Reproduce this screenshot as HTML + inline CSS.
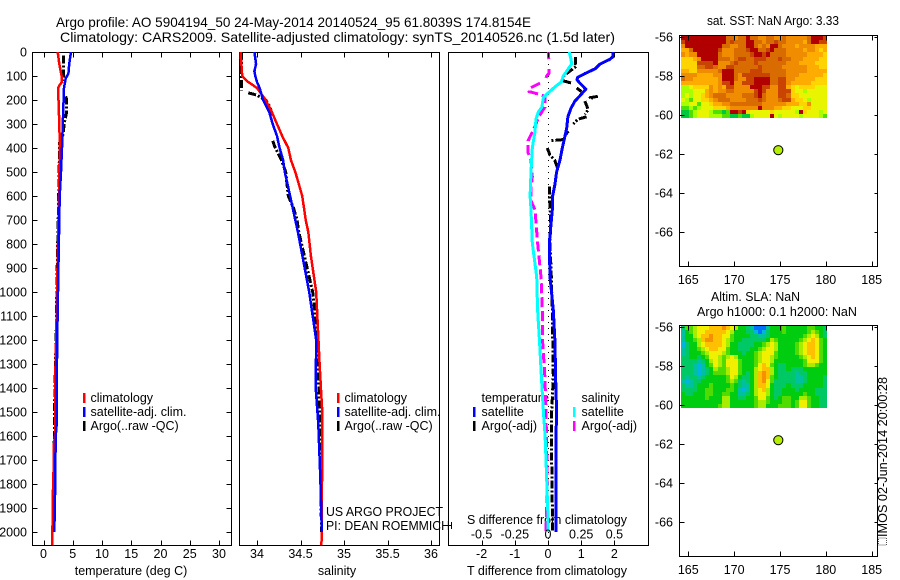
<!DOCTYPE html>
<html>
<head>
<meta charset="utf-8">
<title>Argo profile</title>
<style>
html,body{margin:0;padding:0;background:#fff;width:900px;height:580px;overflow:hidden}
svg{display:block}
text{font-family:"Liberation Sans",sans-serif;font-size:12.5px;fill:#000}
.box{fill:none;stroke:#000;stroke-width:1.4;shape-rendering:crispEdges}
.tick{stroke:#000;stroke-width:1;shape-rendering:crispEdges}
.crv{fill:none;shape-rendering:crispEdges;stroke-linejoin:round}
</style>
</head>
<body>
<svg id="chart" width="900" height="580" viewBox="0 0 900 580">
<text x="56" y="27" font-size="14" style="font-size:14px" textLength="475" lengthAdjust="spacingAndGlyphs">Argo profile: AO 5904194_50 24-May-2014 20140524_95 61.8039S 174.8154E</text>
<text x="60" y="42" style="font-size:14px" textLength="555" lengthAdjust="spacingAndGlyphs">Climatology: CARS2009. Satellite-adjusted climatology: synTS_20140526.nc (1.5d later)</text>

<text x="131" y="575" text-anchor="middle">temperature (deg C)</text>
<text x="337" y="575" text-anchor="middle">salinity</text>
<text x="547" y="575" text-anchor="middle" textLength="160" lengthAdjust="spacingAndGlyphs">T difference from climatology</text>
<text x="547" y="524" text-anchor="middle" textLength="160" lengthAdjust="spacingAndGlyphs">S difference from climatology</text>

<g>
<rect x="83" y="393" width="2.5" height="10" fill="#f00"/>
<rect x="83" y="407" width="2.5" height="10" fill="#00f"/>
<rect x="83" y="421" width="2.5" height="10" fill="#000"/>
<text x="90.5" y="402">climatology</text>
<text x="90.5" y="416" textLength="96" lengthAdjust="spacingAndGlyphs">satellite-adj. clim.</text>
<text x="90.5" y="430">Argo(..raw -QC)</text>
</g>
<g>
<rect x="337" y="393" width="2.5" height="10" fill="#f00"/>
<rect x="337" y="407" width="2.5" height="10" fill="#00f"/>
<rect x="337" y="421" width="2.5" height="10" fill="#000"/>
<text x="344.5" y="402">climatology</text>
<text x="344.5" y="416" textLength="96" lengthAdjust="spacingAndGlyphs">satellite-adj. clim.</text>
<text x="344.5" y="430">Argo(..raw -QC)</text>
</g>
<text x="326" y="516" textLength="117" lengthAdjust="spacingAndGlyphs">US ARGO PROJECT</text>
<text x="326" y="530" textLength="124" lengthAdjust="spacingAndGlyphs">PI: DEAN ROEMMICH</text>

<g id="diff-legend">
<text x="481.5" y="402">temperature</text>
<text x="581.5" y="402">salinity</text>
<rect x="473" y="407" width="2.5" height="10" fill="#00f"/>
<rect x="473" y="421" width="2.5" height="10" fill="#000"/>
<rect x="573" y="407" width="2.5" height="10" fill="#0ff"/>
<rect x="573" y="421" width="2.5" height="10" fill="#f0f"/>
<text x="481.5" y="416">satellite</text>
<text x="481.5" y="430">Argo(-adj)</text>
<text x="581.5" y="416">satellite</text>
<text x="581.5" y="430">Argo(-adj)</text>
</g>

<text x="773" y="25" text-anchor="middle" textLength="132" lengthAdjust="spacingAndGlyphs">sat. SST: NaN Argo: 3.33</text>
<text x="755.5" y="301" text-anchor="middle" textLength="89" lengthAdjust="spacingAndGlyphs">Altim. SLA: NaN</text>
<text x="777" y="316" text-anchor="middle" textLength="160" lengthAdjust="spacingAndGlyphs">Argo h1000: 0.1 h2000: NaN</text>

<rect x="878.5" y="538" width="8" height="7" fill="none" stroke="#555" stroke-width="1" stroke-dasharray="1 1"/>
<text transform="translate(887,537) rotate(-90)" textLength="160" lengthAdjust="spacingAndGlyphs">IMOS 02-Jun-2014 20:00:28</text>
</svg>

<script>
/* ---- tick labels ---- */
const depthTicks = [0,100,200,300,400,500,600,700,800,900,1000,1100,1200,1300,1400,1500,1600,1700,1800,1900,2000];
const temperatureTicks = [0,5,10,15,20,25,30];
const salinityTicks = [34,34.5,35,35.5,36];
const tDiffTicks = [-2,-1,0,1,2];
const sDiffTicks = [-0.5,-0.25,0,0.25,0.5];
const lonTicks = [165,170,175,180,185];
const latTicks = [-56,-58,-60,-62,-64,-66];

/* ---- temperature profile ---- */
const tClimDepth = [0,50,100,125,140,150,300,400,500,600,900,1200,1400,1600,1630,1800,1850,1900,2054];
const tClimValues = [2.42,2.7,3.1,3.16,2.7,2.5,2.7,2.8,2.7,2.65,2.4,2.15,1.97,1.97,1.8,1.67,1.57,1.57,1.5];
const tSatDepth = [0,50,90,110,150,300,400,500,600,900,1200,1400,1550,1600,1850,2000];
const tSatValues = [4.7,4.4,4.25,3.8,3.5,3.3,3.16,3.0,2.77,2.55,2.35,2.25,2.25,2.08,1.97,1.85];
const tArgoDepth = [15,120,null,185,200,250,300,340,380,450,600,900,1200,1400,1600,1800,2000];
const tArgoValues = [3.4,3.4,null,3.8,3.96,3.96,3.5,3.4,2.7,2.7,2.6,2.35,2.15,1.95,1.85,1.75,1.7];

/* ---- salinity profile ---- */
const sClimDepth = [0,100,120,150,170,200,250,300,350,400,450,500,550,600,650,700,750,850,1000,1300,1400,1500,2000,2054];
const sClimValues = [33.81,33.83,33.88,34.0,34.04,34.1,34.17,34.23,34.29,34.36,34.39,34.44,34.48,34.52,34.54,34.56,34.59,34.62,34.68,34.72,34.735,34.75,34.745,34.74];
const sSatDepth = [0,50,80,100,125,150,200,250,300,350,400,450,500,550,600,650,700,750,1000,1200,1400,1450,1550,1750,1850,2000];
const sSatValues = [33.97,33.99,33.97,33.98,34.0,34.03,34.07,34.14,34.18,34.23,34.26,34.3,34.32,34.35,34.38,34.41,34.44,34.47,34.6,34.68,34.675,34.685,34.705,34.725,34.735,34.745];
const sArgoDepth = [0,160,null,170,180,190,200,230,270,null,370,400,450,500,600,650,700,750,1000,1200,1400,1600,2000];
const sArgoValues = [33.82,33.82,null,33.9,34.0,34.05,34.1,34.15,34.18,null,34.18,34.21,34.28,34.33,34.36,34.42,34.46,34.48,34.64,34.7,34.71,34.73,34.74];

/* ---- differences ---- */
const dTSatDepth = [0,20,30,50,70,90,105,115,130,155,175,205,235,270,320,400,450,500,550,600,658,796,937,1075,1212,1354,1500,1600,2000];
const dTSatValues = [1.97,1.95,1.87,1.57,1.42,1.11,0.9,0.87,0.96,1.14,1.01,0.81,0.69,0.6,0.56,0.43,0.36,0.26,0.21,0.14,0.13,0.04,0.06,0.16,0.21,0.23,0.26,0.24,0.24];
const dSSatDepth = [0,30,50,70,100,125,145,170,190,230,250,280,330,400,500,600,658,796,937,1075,1212,1354,1500,1600,1700,1900,2000];
const dSSatValues = [0.16,0.173,0.178,0.153,0.115,0.1,0.053,0.002,-0.035,-0.047,-0.073,-0.09,-0.098,-0.118,-0.128,-0.135,-0.128,-0.118,-0.085,-0.078,-0.063,-0.05,-0.035,-0.022,-0.015,-0.002,0.002];
const dTArgoDepth = [20,50,60,90,100,null,120,130,null,150,165,null,185,190,195,null,205,240,260,null,270,280,300,null,330,350,null,365,370,null,400,430,450,480,null,530,null,560,620,700,796,937,1075,1354,1500,1700,2000];
const dTArgoValues = [0.83,0.83,0.85,0.56,0.46,null,0.46,0.71,null,0.86,1.01,null,1.5,1.27,1.35,null,1.11,1.21,1.11,null,1.16,0.9,0.76,null,0.61,0.5,null,0.46,0.05,null,-0.02,0.06,0.2,0.28,null,0.13,null,0.05,0.05,0.08,0.06,0.1,0.13,0.16,0.11,0.11,0.14];
const dSArgoDepth = [0,30,null,70,90,100,115,null,130,150,165,175,185,230,270,310,370,420,450,520,570,620,658,796,937,1075,1212,1354,1500,1800,2000];
const dSArgoValues = [0.002,0.006,null,0.006,0.006,-0.01,-0.02,null,-0.06,-0.135,-0.142,-0.073,-0.023,-0.023,-0.07,-0.098,-0.15,-0.15,-0.128,-0.118,-0.128,-0.128,-0.098,-0.078,-0.053,-0.043,-0.04,-0.023,-0.015,-0.005,-0.015];

/* ---- map position ---- */
const argoLon = 174.8154;
const argoLat = -61.8039;

/* ---- SST grid (colour level 0-9, north to south) ---- */
const sstGrid = [
[9,9,9,9,9,9,9,9,9,9,9,7,7,6,7,7,9,7,7,6,6,7,7,6,6,7,6,6,6,6,6,7,9,9,9,8],
[8,9,9,9,9,9,9,9,9,9,9,7,8,7,7,7,9,9,7,7,6,7,7,8,7,7,6,6,6,6,5,7,9,9,8,8],
[6,9,9,9,9,9,9,9,9,9,7,7,6,6,7,7,9,9,7,6,7,6,9,9,7,6,6,6,5,6,6,6,6,5,5,5],
[5,5,7,9,9,9,9,9,9,8,6,6,6,7,7,7,8,9,9,7,7,8,9,7,7,7,6,6,6,6,5,6,6,5,4,5],
[6,5,6,6,9,9,9,9,9,7,6,6,6,7,7,7,7,8,9,9,8,9,7,7,7,7,6,6,6,6,6,5,5,5,5,4],
[4,4,4,5,6,9,9,9,9,7,7,7,6,7,8,8,7,7,8,8,8,7,7,7,8,7,7,6,6,6,5,5,5,5,4,4],
[4,4,4,4,8,8,8,8,9,6,6,6,7,8,7,7,7,7,8,7,7,7,7,7,7,7,6,6,6,5,5,5,5,4,4,4],
[4,4,4,4,7,7,8,8,7,6,6,8,8,7,7,7,7,7,7,8,7,7,7,7,7,6,6,6,6,6,6,5,5,5,4,4],
[5,5,4,4,6,6,6,6,6,7,9,9,9,7,7,7,7,8,8,8,7,7,7,7,7,7,6,6,6,6,6,5,5,5,5,5],
[6,6,6,6,5,5,5,5,6,6,9,9,9,7,6,8,8,8,8,8,8,8,7,7,7,7,6,6,6,5,5,5,5,5,5,4],
[7,6,6,5,5,5,5,5,5,6,9,9,9,7,6,6,8,8,9,9,9,9,7,7,8,8,6,6,5,5,5,5,5,4,4,4],
[5,5,5,5,5,5,5,5,5,6,8,8,9,6,6,8,8,8,9,9,9,9,7,7,8,8,6,5,5,5,5,5,4,4,4,4],
[2,2,3,4,4,4,4,6,5,6,5,8,8,6,6,6,6,9,9,9,8,8,6,6,8,8,5,4,3,4,4,4,4,3,3,3],
[2,2,2,3,3,3,5,6,5,6,6,7,7,6,6,6,6,6,8,9,8,6,6,6,8,8,8,4,3,3,2,3,3,3,3,3],
[2,3,2,3,3,4,5,6,7,7,7,6,6,6,6,7,7,7,8,9,7,6,6,6,8,8,7,4,4,3,3,3,3,3,3,3],
[3,2,1,3,3,4,4,5,6,7,7,7,6,6,6,6,7,7,7,8,7,6,6,6,7,8,8,5,4,4,3,2,3,3,3,3],
[2,2,3,3,1,3,3,4,5,5,6,6,7,7,7,7,7,7,7,7,6,6,6,6,6,6,5,5,5,4,4,6,3,3,3,3],
[1,1,2,1,2,3,3,3,4,4,4,5,6,6,6,6,6,6,6,9,6,6,6,5,5,4,4,3,3,3,4,4,3,3,3,3],
[0,0,1,2,3,3,3,2,1,1,0,1,9,9,8,9,4,3,3,3,3,3,4,3,3,3,3,3,2,9,4,3,3,3,2,3],
[0,0,1,2,3,3,3,2,2,2,1,1,0,0,1,0,0,2,3,3,3,3,9,3,2,3,3,3,3,2,3,3,3,3,2,1]
];

/* ---- SLA grid (colour level 0-9, north to south) ---- */
const slaGrid = [
[3,5,5,6,7,7,7,8,8,8,9,8,7,6,4,4,3,2,0,0,0,2,4,4,4,5,4,4,4,4,4,5,5,4,4,3],
[2,4,5,6,7,7,8,8,8,8,8,7,6,4,4,4,3,3,1,0,1,3,4,4,4,5,4,4,4,4,4,5,6,5,4,3],
[2,4,4,6,7,8,8,9,8,8,7,7,5,4,4,4,4,3,3,2,2,3,4,4,4,4,4,4,4,4,5,6,7,6,4,3],
[2,4,4,5,6,8,9,9,8,8,7,6,5,4,4,3,3,3,3,3,3,4,6,5,4,4,4,4,4,5,6,7,8,7,5,4],
[1,3,4,4,6,7,8,8,8,8,7,6,4,4,3,3,3,3,4,4,5,6,7,6,4,4,4,4,5,6,7,8,8,7,5,4],
[2,3,4,4,5,6,7,8,8,7,7,5,4,4,3,3,3,4,4,5,6,7,7,6,4,4,4,4,5,6,7,8,8,7,5,4],
[2,3,4,4,4,5,6,7,7,7,6,5,4,4,4,3,4,4,5,6,7,7,7,5,4,4,4,4,5,6,7,8,8,7,5,4],
[3,3,4,4,3,4,5,7,7,6,5,6,7,6,4,4,4,4,5,6,7,7,6,5,4,4,4,4,4,5,6,7,8,7,5,4],
[3,3,3,3,2,3,4,6,7,6,5,7,7,7,5,4,4,4,5,6,7,7,6,4,4,4,4,4,4,4,5,7,7,7,5,4],
[3,3,3,2,1,2,4,5,7,6,5,7,7,7,5,4,4,4,5,7,8,7,5,4,3,3,4,4,4,4,5,6,6,5,4,4],
[3,3,3,2,1,2,3,4,6,5,5,6,7,7,5,4,4,4,6,7,8,8,6,4,3,3,4,3,3,3,4,4,4,4,4,4],
[3,3,3,2,1,2,3,4,5,5,5,6,7,7,5,4,3,4,6,8,9,8,6,4,3,3,3,3,2,3,3,4,4,4,4,4],
[3,2,3,3,2,3,4,4,4,4,4,5,7,6,4,3,3,4,6,8,9,8,5,4,3,3,3,3,2,2,3,4,4,4,4,3],
[2,1,2,3,3,4,4,4,4,4,4,5,6,5,3,2,3,4,6,8,9,7,5,3,3,3,3,3,2,2,3,4,4,4,4,3],
[3,2,2,3,4,4,4,5,4,4,4,4,5,4,3,2,2,4,6,8,8,7,4,3,3,3,4,3,3,3,4,4,4,4,4,3],
[3,3,3,3,4,4,5,5,4,4,4,5,5,4,2,1,2,4,6,7,8,6,4,3,3,4,4,4,3,4,4,4,4,3,3,3],
[4,3,3,4,4,4,5,5,4,4,5,5,4,4,2,2,3,4,6,7,7,6,4,3,3,4,4,4,4,4,5,4,4,3,3,3],
[4,4,4,4,4,4,5,4,4,4,6,6,4,4,3,3,4,4,5,7,7,5,4,3,4,5,5,4,4,6,6,5,4,4,3,3],
[4,4,4,4,4,4,4,4,4,4,6,6,4,4,4,4,4,4,5,6,6,5,4,4,4,5,5,4,5,7,7,5,4,4,3,3],
[4,4,4,4,4,4,4,4,4,5,6,6,4,4,4,4,4,4,5,6,6,4,4,4,5,5,5,4,5,7,7,5,4,4,3,3]
];

/* ---- colour scales ---- */
const sstColours = ['#00c83c','#50e000','#a8ff00','#e8f400','#ffd400','#ffac00','#f08c00','#d86c00','#c84400','#b00000'];
const slaColours = ['#0070ff','#00b4e0','#00c0a0','#00c864','#00cc10','#50dc00','#a8ec00','#f0f000','#ffc000','#f59000'];

/* ---- axis functions ---- */
const NS = 'http://www.w3.org/2000/svg';
const svg = document.getElementById('chart');
const yDepth = d => 52 + 0.24 * d;
const xTemp = v => 43.5 + 5.85 * v;
const xSal = v => 257 + 87 * (v - 34);
const xDT = v => 548 + 33.2 * v;
const xDS = v => 548 + 132.8 * v;
const xLon = v => 688.3 + 9.17 * (v - 165);
const yLatA = v => 37 + 19.5 * (-56 - v);
const yLatB = v => 327 + 19.5 * (-56 - v);

function make(tag, attrs, parent) {
  const el = document.createElementNS(NS, tag);
  for (const k in attrs) el.setAttribute(k, attrs[k]);
  (parent || svg).appendChild(el);
  return el;
}

function drawBox(left, top, right, bottom, name) {
  const g = make('g', {});
  
  
  const r = make('rect', {x:left, y:top, width:right-left, height:bottom-top, class:'box'}, g);
  
  
  return g;
}

function tickLine(g, x1, y1, x2, y2) {
  const t = make('line', {x1:x1, y1:y1, x2:x2, y2:y2, class:'tick'}, g);
  
  
}

function tickLabel(g, x, y, anchor, str) {
  const t = make('text', {x:x, y:y, 'text-anchor':anchor}, g);
  t.textContent = str;
  
  
}

function xTicks(g, ticks, scale, top, bottom, labelY) {
  ticks.forEach(v => {
    const x = Math.round(scale(v)) + 0.5;
    tickLine(g, x, top, x, top + 5);
    tickLine(g, x, bottom, x, bottom - 5);
    if (labelY) tickLabel(g, scale(v), labelY, 'middle', String(v));
  });
}

function drawCurve(g, name, depths, values, scale, colour, width, dash) {
  let d = '';
  let pen = false;
  depths.forEach((dep, i) => {
    if (dep === null || values[i] === null) { pen = false; return; }
    d += (pen ? 'L' : 'M') + scale(values[i]).toFixed(1) + ' ' + yDepth(dep).toFixed(1);
    pen = true;
  });
  const p = make('path', {d:d, class:'crv', stroke:colour, 'stroke-width':width}, g);
  if (dash) p.setAttribute('stroke-dasharray', dash);
  
  
}

/* ---- temperature panel ---- */
const p1 = drawBox(32.5, 52.5, 231.5, 545.5, 'temperature-panel');
drawCurve(p1, 'temperature-argo-line', tArgoDepth, tArgoValues, xTemp, '#000', 3, '8 2 2 2');
drawCurve(p1, 'temperature-climatology-line', tClimDepth, tClimValues, xTemp, '#f00', 2.5);
drawCurve(p1, 'temperature-satellite-line', tSatDepth, tSatValues, xTemp, '#00f', 2.5);
xTicks(p1, temperatureTicks, xTemp, 52.5, 545.5, 558);
depthTicks.forEach(d => {
  const y = Math.round(yDepth(d)) + 0.5;
  tickLine(p1, 32.5, y, 37.5, y);
  tickLine(p1, 231.5, y, 226.5, y);
  tickLabel(p1, 27, yDepth(d) + 4.5, 'end', String(d));
});

/* ---- salinity panel ---- */
const p2 = drawBox(239.5, 52.5, 439.5, 545.5, 'salinity-panel');
drawCurve(p2, 'salinity-argo-line', sArgoDepth, sArgoValues, xSal, '#000', 3, '8 2 2 2');
drawCurve(p2, 'salinity-climatology-line', sClimDepth, sClimValues, xSal, '#f00', 2.5);
drawCurve(p2, 'salinity-satellite-line', sSatDepth, sSatValues, xSal, '#00f', 2.5);
xTicks(p2, salinityTicks, xSal, 52.5, 545.5, 558);

/* ---- difference panel ---- */
const p3 = drawBox(448.5, 52.5, 648.5, 545.5, 'difference-panel');
const zero = make('line', {x1:548.5, y1:52, x2:548.5, y2:545, stroke:'#000', 'stroke-width':1, 'stroke-dasharray':'1 5', 'shape-rendering':'crispEdges'}, p3);


drawCurve(p3, 't-difference-argo-line', dTArgoDepth, dTArgoValues, xDT, '#000', 3, '8 2 2 2');
drawCurve(p3, 't-difference-satellite-line', dTSatDepth, dTSatValues, xDT, '#00f', 3);
drawCurve(p3, 's-difference-argo-line', dSArgoDepth, dSArgoValues, xDS, '#f0f', 3, '10 4');
drawCurve(p3, 's-difference-satellite-line', dSSatDepth, dSSatValues, xDS, '#0ff', 3);
xTicks(p3, tDiffTicks, xDT, 52.5, 545.5, 558);
sDiffTicks.forEach(v => tickLabel(p3, xDS(v), 538.5, 'middle', String(v)));
tickLine(p3, 449, 525.5, 451, 525.5);
tickLine(p3, 451.5, 522, 451.5, 529);

/* ---- maps ---- */
function drawHeat(g, name, grid, colours, left, top, width, height) {
  const h = make('g', {'shape-rendering':'crispEdges'}, g);
  
  
  const rows = grid.length;
  const cols = grid[0].length;
  const cw = width / cols;
  const ch = height / rows;
  grid.forEach((row, r) => row.forEach((v, c) => {
    const x0 = Math.round(left + c * cw);
    const x1 = Math.round(left + (c + 1) * cw);
    const y0 = Math.round(top + r * ch);
    const y1 = Math.round(top + (r + 1) * ch);
    const cell = make('rect', {x:x0, y:y0, width:x1-x0, height:y1-y0, fill:colours[v]}, h);
    
    
  }));
}

function drawMap(name, heatName, grid, colours, top, bottom, yLat, labelY) {
  const g = make('g', {});
  
  
  drawHeat(g, heatName, grid, colours, 681, top + 1, 146, 82);
  const r = make('rect', {x:679.5, y:top + 0.5, width:198, height:bottom - top, class:'box'}, g);
  
  
  xTicks(g, lonTicks, xLon, top + 0.5, bottom + 0.5, labelY);
  latTicks.forEach(v => {
    const y = Math.round(yLat(v)) + 0.5;
    tickLine(g, 679.5, y, 684.5, y);
    tickLine(g, 877.5, y, 874.5, y);
    tickLabel(g, 673, yLat(v) + 4.5, 'end', String(v));
  });
  const dot = make('circle', {cx:xLon(argoLon), cy:yLat(argoLat), r:4.6, fill:'#b6f000', stroke:'#000', 'stroke-width':1}, g);
  
  
}

drawMap('sst-map', 'sst-heatmap', sstGrid, sstColours, 35, 266, yLatA, 284);
drawMap('sla-map', 'sla-heatmap', slaGrid, slaColours, 325, 556, yLatB, 574);
</script>
</body>
</html>
